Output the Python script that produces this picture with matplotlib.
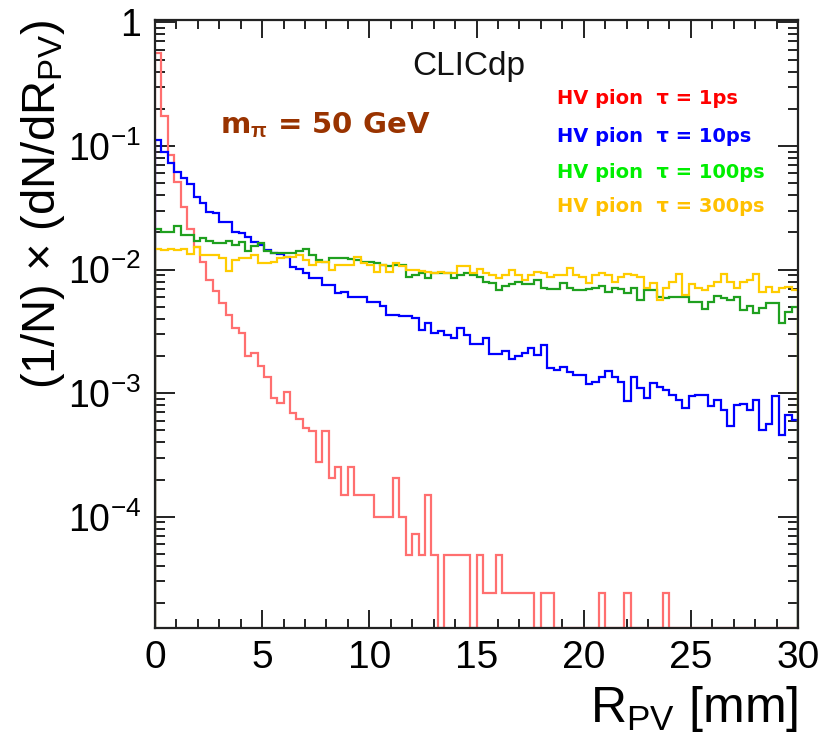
import numpy as np
import matplotlib
matplotlib.use("Agg")
import matplotlib.pyplot as plt
from matplotlib.ticker import FixedLocator, NullFormatter, MultipleLocator

plt.rcParams['font.family'] = ['Liberation Sans', 'DejaVu Sans']
plt.rcParams['mathtext.fontset'] = 'custom'
plt.rcParams['mathtext.rm'] = 'Liberation Sans'
plt.rcParams['mathtext.it'] = 'Liberation Sans:italic'
plt.rcParams['mathtext.bf'] = 'Liberation Sans:bold'

# ---------------- data (1/N dN/dR, 100 bins of 0.3 mm from 0 to 30 mm) -------------
r_edges_mm = np.linspace(0, 30, 101)

tau_1ps = [0.565, 0.175, 0.0845, 0.051, 0.032, 0.0213, 0.0153, 0.0116, 0.00826, 0.00676,
           0.0054, 0.0043, 0.00336, 0.00306, 0.0020, 0.0021, 0.00166, 0.00134, 0.00091, 0.00084,
           0.00103, 0.00069, 0.00062, 0.00052, 0.000497, 0.00028, 0.000497, 0.000205, 0.000254, 0.000151,
           0.000254, 0.000151, 0.000151, 0.000151, 1.0e-4, 1.0e-4, 1.0e-4, 0.000205, 1.0e-4, 4.9e-5,
           7.3e-5, 4.9e-5, 0.000151, 4.9e-5, 0, 4.9e-5, 4.9e-5, 4.9e-5, 4.9e-5, 0,
           4.9e-5, 2.43e-5, 2.43e-5, 4.9e-5, 2.43e-5, 2.43e-5, 2.43e-5, 2.43e-5, 2.43e-5, 0,
           2.43e-5, 2.43e-5, 0, 0, 0, 0, 0, 0, 0, 2.43e-5,
           0, 0, 0, 2.43e-5, 0, 0, 0, 0, 0, 2.43e-5,
           0, 0, 0, 0, 0, 0, 0, 0, 0, 0,
           0, 0, 0, 0, 0, 0, 0, 0, 0, 0]

tau_10ps = [0.112, 0.090, 0.0733, 0.0613, 0.0554, 0.049, 0.0389, 0.0344, 0.0293, 0.0286,
            0.0244, 0.0244, 0.0203, 0.0199, 0.0185, 0.0168, 0.0158, 0.0143, 0.0136, 0.0134,
            0.0127, 0.0104, 0.0101, 0.00935, 0.00851, 0.00851, 0.00751, 0.00751, 0.00644, 0.00664,
            0.00605, 0.00605, 0.00605, 0.00551, 0.00551, 0.00509, 0.0043, 0.0043, 0.00422, 0.00422,
            0.00405, 0.00326, 0.00369, 0.00306, 0.00316, 0.00297, 0.00279, 0.00336, 0.00297, 0.00251,
            0.00251, 0.00279, 0.00208, 0.00208, 0.00221, 0.00189, 0.00198, 0.00213, 0.00232, 0.00204,
            0.00246, 0.0016, 0.00153, 0.00163, 0.00147, 0.00141, 0.00141, 0.00119, 0.00124, 0.00134,
            0.0015, 0.00136, 0.00124, 0.000857, 0.00136, 0.0011, 0.000912, 0.00121, 0.00113, 0.00106,
            0.00097, 0.000885, 0.000758, 0.00094, 0.00097, 0.00097, 0.000782, 0.000885, 0.000735, 0.000545,
            0.000806, 0.00082, 0.000735, 0.000885, 0.000506, 0.000566, 0.000953, 0.000461, 0.000668, 0.00061]

tau_100ps = [0.0212, 0.0203, 0.0203, 0.0223, 0.0191, 0.0191, 0.0171, 0.0179, 0.0171, 0.0163,
             0.0163, 0.0171, 0.0159, 0.0168, 0.0140, 0.0154, 0.0163, 0.0140, 0.0136, 0.0137,
             0.0136, 0.0136, 0.0140, 0.0146, 0.0132, 0.0120, 0.0116, 0.0124, 0.0124, 0.0124,
             0.0122, 0.0120, 0.0116, 0.0116, 0.0113, 0.0109, 0.0106, 0.0109, 0.0109, 0.00877,
             0.00907, 0.00935, 0.0085, 0.00935, 0.00935, 0.00935, 0.0085, 0.00907, 0.00935, 0.00907,
             0.00877, 0.0080, 0.00776, 0.00685, 0.0073, 0.00757, 0.0080, 0.00757, 0.00757, 0.00826,
             0.00707, 0.00694, 0.00694, 0.00776, 0.00707, 0.00685, 0.00685, 0.00694, 0.00707, 0.0073,
             0.0066, 0.0071, 0.0070, 0.0065, 0.00707, 0.00569, 0.00685, 0.00685, 0.00598, 0.00587,
             0.00598, 0.00598, 0.00598, 0.00551, 0.00551, 0.00478, 0.00551, 0.00612, 0.00587, 0.00569,
             0.00598, 0.00472, 0.00509, 0.00443, 0.00488, 0.00535, 0.00535, 0.00369, 0.00457, 0.00502]

tau_300ps = [0.0148, 0.0143, 0.0146, 0.0143, 0.0147, 0.0134, 0.0151, 0.0132, 0.0132, 0.0132,
             0.0125, 0.00975, 0.0120, 0.0124, 0.0124, 0.0132, 0.0113, 0.0113, 0.0116, 0.0124,
             0.0127, 0.0127, 0.0132, 0.0120, 0.0109, 0.0116, 0.0116, 0.00995, 0.0109, 0.0109,
             0.0109, 0.0127, 0.0113, 0.0109, 0.00964, 0.0109, 0.00964, 0.0113, 0.0106, 0.00995,
             0.00995, 0.0098, 0.00964, 0.00935, 0.00964, 0.00946, 0.00946, 0.0106, 0.0106, 0.00935,
             0.0101, 0.00946, 0.00907, 0.0085, 0.00907, 0.00995, 0.00907, 0.00826, 0.00907, 0.00964,
             0.00935, 0.00877, 0.00907, 0.00907, 0.0103, 0.00907, 0.00877, 0.00776, 0.00907, 0.00935,
             0.00907, 0.0080, 0.00877, 0.00923, 0.00907, 0.00866, 0.00707, 0.00776, 0.00569, 0.00707,
             0.0080, 0.00923, 0.00624, 0.00766, 0.00707, 0.00677, 0.00738, 0.0080, 0.00923, 0.0080,
             0.00707, 0.0080, 0.00826, 0.00923, 0.00664, 0.00721, 0.00664, 0.00707, 0.00721, 0.00685]

series_labels = ["HV pion  \u03c4 = 1ps", "HV pion  \u03c4 = 10ps",
                 "HV pion  \u03c4 = 100ps", "HV pion  \u03c4 = 300ps"]
line_colors = ["#ff6f6f", "#0000ff", "#1fa01f", "#ffcc00"]
text_colors = ["#ff0000", "#0000ff", "#00ee00", "#ffc000"]

y_major = [1e-4, 1e-3, 1e-2, 1e-1, 1.0]
y_major_labels = [r"$10^{-4}$", r"$10^{-3}$", r"$10^{-2}$", r"$10^{-1}$", "1"]
x_major = [0, 5, 10, 15, 20, 25, 30]

# ---------------- figure -------------
W, H = 825, 751
fig = plt.figure(figsize=(W / 100, H / 100), dpi=100)
ax = fig.add_axes([155 / W, 1 - 628 / H, 643 / W, 608 / H])

ymin, ymax = 1.26e-5, 1.044
ax.set_yscale('log')
ax.set_xlim(0, 30)
ax.set_ylim(ymin, ymax)

for vals, col in zip([tau_1ps, tau_10ps, tau_100ps, tau_300ps], line_colors):
    v = np.maximum(np.asarray(vals, dtype=float), ymin)
    ax.stairs(v, r_edges_mm, baseline=ymin, color=col, lw=1.6, zorder=2)

ax.xaxis.set_major_locator(FixedLocator(x_major))
ax.xaxis.set_minor_locator(MultipleLocator(1))
ax.set_xticklabels([str(x) for x in x_major])
ax.yaxis.set_major_locator(FixedLocator(y_major))
ax.set_yticklabels(y_major_labels)
minors = [m * 10.0 ** e for e in range(-5, 1) for m in range(2, 10)]
ax.yaxis.set_minor_locator(FixedLocator(minors))
ax.yaxis.set_minor_formatter(NullFormatter())

ax.tick_params(axis='both', which='both', direction='in', top=True, right=True,
               color='#222222', width=1.4)
ax.tick_params(axis='x', which='major', length=13, labelsize=28, pad=9)
ax.tick_params(axis='x', which='minor', length=6.5)
ax.tick_params(axis='y', which='major', length=14.5, labelsize=27, pad=10)
ax.tick_params(axis='y', which='minor', length=7.5)
for s in ax.spines.values():
    s.set_linewidth(1.6)
    s.set_color('#222222')
    s.set_zorder(3)

# axis titles
fig.text(798 / W, 1 - 722 / H, r"R$_{\rm PV}$ [mm]", fontsize=36, ha='right', va='baseline')
fig.text(43 / W, 1 - 20 / H, r"(1/N) $\times$ (dN/dR$_{\rm PV}$)", fontsize=34,
         rotation=90, ha='center', va='top')

# annotations
fig.text(469 / W, 1 - 66 / H, "CLICdp", fontsize=24, ha='center', va='center', color='#111111')
fig.text(220 / W, 1 - 125 / H, r"m$_{\mathbf{\pi}}$ = 50 GeV", fontsize=21, fontweight='bold',
         family='DejaVu Sans', color='#993300', ha='left', va='center')

legend_y = [99, 136, 172, 207]
for lab, col, yy in zip(series_labels, text_colors, legend_y):
    fig.text(557 / W, 1 - yy / H, lab, fontsize=14, fontweight='bold', family='DejaVu Sans',
             color=col, ha='left', va='center')

fig.savefig("out.png", dpi=100)
